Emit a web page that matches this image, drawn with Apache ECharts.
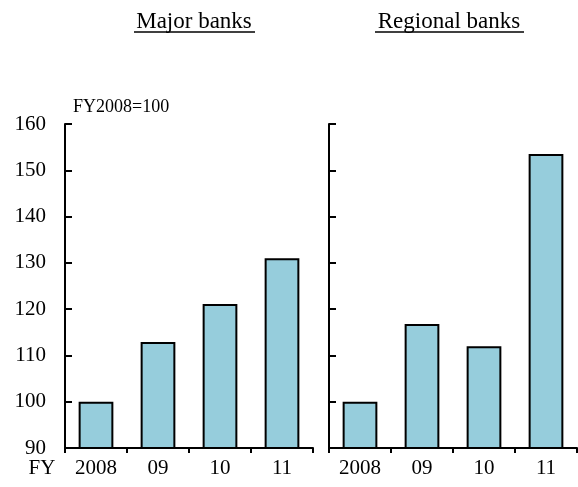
<!DOCTYPE html>
<html>
<head>
<meta charset="utf-8">
<script src="https://cdn.jsdelivr.net/npm/echarts@6/dist/echarts.min.js"></script>
<style>
  html, body { margin: 0; padding: 0; background: #fff; }
  #chart { width: 578px; height: 487px; }
</style>
</head>
<body>
<div id="chart"></div>
<script>
// Fiscal-year index, FY2008 = 100
const categories = ['2008', '09', '10', '11'];
const majorBanks = [100, 112.9, 121.1, 131.0];
const regionalBanks = [100, 116.8, 112.0, 153.5];
const panelTitles = ['Major banks', 'Regional banks'];
const yMin = 90, yMax = 160, yStep = 10;

const FONT = '"Liberation Serif", "Times New Roman", serif';
const BAR_FILL = '#96cddc';

const chart = echarts.init(document.getElementById('chart'));

function xAxisFor(gridIndex) {
  return {
    type: 'category',
    gridIndex: gridIndex,
    data: categories,
    axisLine: { lineStyle: { color: '#000', width: 2 } },
    axisTick: { show: true, inside: false, length: 5, lineStyle: { color: '#000', width: 2 } },
    axisLabel: { color: '#000', fontFamily: FONT, fontSize: 21, margin: 10 }
  };
}

function yAxisFor(gridIndex, withLabels) {
  return {
    type: 'value',
    gridIndex: gridIndex,
    min: yMin, max: yMax, interval: yStep,
    name: withLabels ? 'FY2008=100' : '',
    nameLocation: 'end',
    nameGap: 8,
    nameTextStyle: { color: '#000', fontFamily: FONT, fontSize: 18, align: 'left', padding: [0, 0, 0, 8] },
    axisLine: { show: true, lineStyle: { color: '#000', width: 2 } },
    axisTick: { show: true, inside: true, length: 7, lineStyle: { color: '#000', width: 2 } },
    axisLabel: { show: withLabels, color: '#000', fontFamily: FONT, fontSize: 21, margin: 19 },
    splitLine: { show: false }
  };
}

function barSeries(idx, values) {
  return {
    type: 'bar',
    xAxisIndex: idx,
    yAxisIndex: idx,
    data: values,
    barWidth: '56%',
    itemStyle: { color: BAR_FILL, borderColor: '#000', borderWidth: 2 },
    silent: true
  };
}

function panelTitle(text, cx, x1, x2) {
  return [
    { type: 'text', x: cx, y: 22,
      style: { text: text, fill: '#000', font: '23px ' + FONT, align: 'center', verticalAlign: 'middle' } },
    { type: 'line', shape: { x1: x1, y1: 32, x2: x2, y2: 32 }, style: { stroke: '#000', lineWidth: 1.5 } }
  ];
}

chart.setOption({
  animation: false,
  backgroundColor: '#fff',
  grid: [
    { left: 65, right: 265, top: 124, bottom: 39 },
    { left: 329, right: 1, top: 124, bottom: 39 }
  ],
  xAxis: [xAxisFor(0), xAxisFor(1)],
  yAxis: [yAxisFor(0, true), yAxisFor(1, false)],
  series: [barSeries(0, majorBanks), barSeries(1, regionalBanks)],
  graphic: [
    ...panelTitle(panelTitles[0], 194, 134, 255),
    ...panelTitle(panelTitles[1], 449, 375, 524),
    // fiscal-year prefix for the category axis
    { type: 'text', x: 42, y: 468,
      style: { text: 'FY', fill: '#000', font: '21px ' + FONT, align: 'center', verticalAlign: 'middle' } }
  ]
});
</script>
</body>
</html>
